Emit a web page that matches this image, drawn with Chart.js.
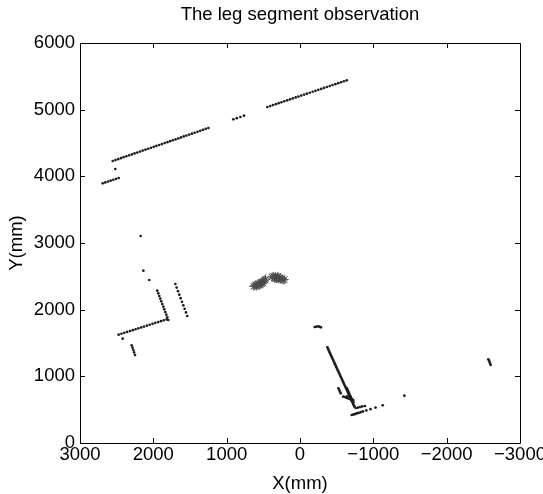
<!DOCTYPE html>
<html>
<head>
<meta charset="utf-8">
<title>The leg segment observation</title>
<script src="https://cdn.jsdelivr.net/npm/chart.js@4.4.1/dist/chart.umd.min.js"></script>
<style>
  html, body { margin: 0; padding: 0; background: #ffffff; }
  #caja_grafica { position: relative; width: 543px; height: 494px; }
</style>
</head>
<body>
<div id="caja_grafica"><canvas id="canvas_piernas"></canvas></div>
<script>
// Ejes (mm)
const x_ticks = [3000, 2000, 1000, 0, -1000, -2000, -3000];
const y_ticks = [0, 1000, 2000, 3000, 4000, 5000, 6000];

// Puntos del laser (negros)
const dots_x = [
    // pared superior, tramo corto
    2690, 2655, 2618, 2582, 2545, 2508, 2472,
    2519,
    // pared superior, tramo largo
    2554, 2517, 2480, 2442, 2405, 2368, 2330, 2293, 2256, 2219, 2181, 2144,
    2107, 2069, 2032, 1995, 1958, 1920, 1883, 1846, 1808, 1771, 1734, 1697,
    1659, 1622, 1585, 1548, 1510, 1473, 1436, 1398, 1361, 1324, 1287, 1250,
    909, 862, 813, 764,
    446, 407, 369, 330, 291, 253, 214, 175, 137, 98, 59, 21, -18, -57, -95,
    -134, -173, -211, -250, -289, -327, -366, -405, -443, -482, -521, -559, -598, -637,
    // zona izquierda
    2173, 2136, 2055,
    1946, 1932, 1919, 1905, 1892, 1878, 1864, 1851, 1837, 1823, 1810, 1796,
    1700, 1682, 1664, 1646, 1628, 1609, 1591, 1573, 1555, 1537,
    2473, 2435, 2396, 2358, 2319, 2281, 2242, 2204, 2165, 2127, 2088, 2050,
    2011, 1973, 1934, 1896, 1857, 1818,
    2418,
    2295, 2284, 2273, 2262, 2250,
    // zona derecha
    -200, -225, -250, -270, -285,
    -373, -382, -392, -401, -411, -420, -430, -439, -449, -458, -468, -477, -487,
    -496, -506, -515, -525, -534, -544, -553, -563, -572, -582, -591, -601, -610,
    -620, -629, -639, -648, -658, -667, -677, -686, -696, -705, -715, -724, -734, -743,
    -640, -652, -665, -676, -690, -702, -716, -728,
    -523, -535, -545, -556,
    -590, -610, -630, -650, -670, -690, -710, -727, -640, -700,
    -705, -725, -745, -765, -785, -805, -830, -860, -905, -960, -1030, -1128,
    -760, -790, -820, -850, -886,
    -1423,
    -2568, -2578, -2585, -2592, -2600
];
const dots_y = [
    3895, 3908, 3922, 3935, 3948, 3962, 3975,
    4110,
    4230, 4244, 4258, 4272, 4287, 4301, 4315, 4329, 4343, 4357, 4371, 4386,
    4400, 4414, 4428, 4442, 4456, 4470, 4484, 4499, 4513, 4527, 4541, 4555,
    4569, 4583, 4598, 4612, 4626, 4640, 4654, 4668, 4682, 4697, 4711, 4725,
    4855, 4872, 4890, 4910,
    5040, 5054, 5069, 5083, 5097, 5111, 5126, 5140, 5154, 5169, 5183, 5197, 5211, 5226, 5240,
    5254, 5269, 5283, 5297, 5311, 5326, 5340, 5354, 5369, 5383, 5397, 5411, 5426, 5440,
    3105, 2585, 2445,
    2285, 2245, 2205, 2165, 2125, 2085, 2045, 2005, 1965, 1925, 1885, 1845,
    2385, 2332, 2278, 2225, 2172, 2118, 2065, 2012, 1958, 1905,
    1625, 1639, 1652, 1666, 1679, 1693, 1706, 1720, 1733, 1747, 1760, 1774,
    1787, 1801, 1814, 1828, 1841, 1855,
    1565,
    1465, 1430, 1395, 1358, 1320,
    1740, 1745, 1748, 1742, 1735,
    1435, 1412, 1389, 1366, 1343, 1320, 1298, 1275, 1252, 1229, 1206, 1183, 1160,
    1137, 1114, 1091, 1069, 1046, 1023, 1000, 977, 954, 931, 908, 885, 862,
    840, 817, 794, 771, 748, 725, 702, 679, 656, 633, 611, 588, 565, 545,
    820, 790, 760, 730, 700, 670, 640, 610,
    820, 795, 770, 745,
    695, 690, 680, 672, 665, 660, 650, 645, 700, 640,
    420, 427, 433, 440, 447, 454, 462, 473, 488, 507, 531, 565,
    525, 530, 540, 548, 555,
    710,
    1255, 1235, 1215, 1192, 1170
];

// Observacion de piernas (estrellas grises)
const stars_x = [
    630, 615, 600, 590, 575, 560, 545, 535, 520, 505, 495, 480, 470, 560, 520,
    380, 365, 350, 335, 320, 305, 290, 275, 260, 245, 230, 215, 340, 300
];
const stars_y = [
    2350, 2360, 2370, 2355, 2380, 2390, 2375, 2405, 2415, 2400, 2430, 2445, 2460, 2365, 2390,
    2490, 2500, 2480, 2495, 2470, 2485, 2460, 2475, 2455, 2465, 2445, 2450, 2465, 2500
];

const fuente = "'Liberation Sans', Arial, Helvetica, sans-serif";

function a_puntos(xs, ys) {
    return xs.map(function(x, i) { return { x: x, y: ys[i] }; });
}

function etiqueta_num(v) {
    return v < 0 ? '\u2212' + Math.abs(v) : String(v);
}

// Marco negro y ticks hacia dentro (estilo MATLAB)
const marco_plugin = {
    id: 'marco',
    afterDatasetsDraw: function(chart) {
        const ctx = chart.ctx;
        const a = chart.chartArea;
        const sx = chart.scales.x, sy = chart.scales.y;
        ctx.save();
        ctx.strokeStyle = '#000000';
        ctx.lineWidth = 1;
        ctx.beginPath();
        ctx.rect(Math.round(a.left) + 0.5, Math.round(a.top) + 0.5,
                 Math.round(a.right - a.left), Math.round(a.bottom - a.top));
        x_ticks.forEach(function(v) {
            let px = Math.round(sx.getPixelForValue(v)) + 0.5;
            ctx.moveTo(px, a.bottom); ctx.lineTo(px, a.bottom - 5);
            ctx.moveTo(px, a.top); ctx.lineTo(px, a.top + 5);
        });
        y_ticks.forEach(function(v) {
            let py = Math.round(sy.getPixelForValue(v)) + 0.5;
            ctx.moveTo(a.left, py); ctx.lineTo(a.left + 5, py);
            ctx.moveTo(a.right, py); ctx.lineTo(a.right - 5, py);
        });
        ctx.stroke();
        ctx.restore();
    }
};

new Chart(document.getElementById('canvas_piernas'), {
    type: 'scatter',
    data: {
        datasets: [{
            label: 'scan',
            data: a_puntos(dots_x, dots_y),
            pointStyle: 'circle',
            pointRadius: 1.35,
            backgroundColor: '#1e1e1e',
            borderWidth: 0
        }, {
            label: 'legs',
            data: a_puntos(stars_x, stars_y),
            pointStyle: 'star',
            pointRadius: 4.5,
            borderColor: '#4a4a4a',
            backgroundColor: '#4a4a4a',
            borderWidth: 1
        }]
    },
    options: {
        responsive: true,
        maintainAspectRatio: false,
        animation: false,
        layout: { padding: { left: 0, right: 23, top: 0, bottom: 0 } },
        plugins: {
            legend: { display: false },
            tooltip: { enabled: false },
            title: {
                display: true,
                fullSize: false,
                text: 'The leg segment observation',
                color: '#000000',
                font: { family: fuente, size: 18.5, weight: 'normal' },
                padding: { top: 4, bottom: 16.8 }
            }
        },
        scales: {
            x: {
                type: 'linear',
                min: -3000,
                max: 3000,
                reverse: true,
                afterBuildTicks: function(s) { s.ticks = x_ticks.map(function(v) { return { value: v }; }); },
                afterFit: function(s) { s.height = 51; s.paddingLeft = 0; s.paddingRight = 0; },
                ticks: {
                    color: '#000000',
                    padding: 1,
                    maxRotation: 0,
                    autoSkip: false,
                    font: { family: fuente, size: 18.5 },
                    callback: function(v) { return etiqueta_num(v); }
                },
                grid: { display: false, drawTicks: false },
                border: { display: false },
                title: {
                    display: true,
                    text: 'X(mm)',
                    color: '#000000',
                    font: { family: fuente, size: 18.5, lineHeight: 1 },
                    padding: { top: 0, bottom: 1 }
                }
            },
            y: {
                type: 'linear',
                min: 0,
                max: 6000,
                afterBuildTicks: function(s) { s.ticks = y_ticks.map(function(v) { return { value: v }; }); },
                afterFit: function(s) { s.width = 80; s.paddingTop = 0; s.paddingBottom = 0; },
                ticks: {
                    color: '#000000',
                    padding: 5,
                    autoSkip: false,
                    font: { family: fuente, size: 18.5 },
                    callback: function(v) { return etiqueta_num(v); }
                },
                grid: { display: false, drawTicks: false },
                border: { display: false },
                title: {
                    display: true,
                    text: 'Y(mm)',
                    color: '#000000',
                    font: { family: fuente, size: 18.5, lineHeight: 1 },
                    padding: { top: 8, bottom: 0 }
                }
            }
        }
    },
    plugins: [marco_plugin]
});
</script>
</body>
</html>
